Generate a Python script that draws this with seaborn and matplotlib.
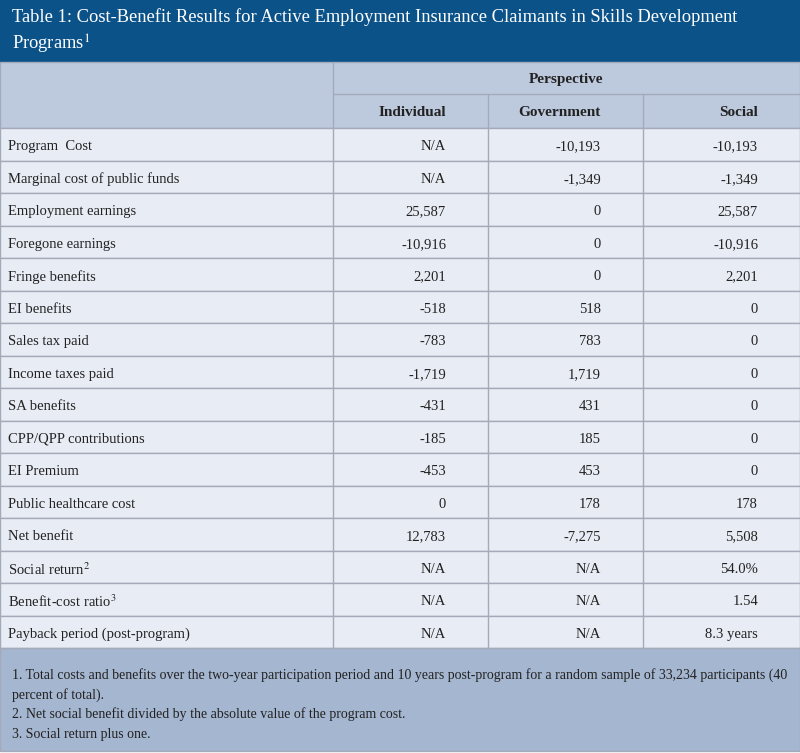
import matplotlib
matplotlib.use('Agg')
import matplotlib.pyplot as plt
from matplotlib.patches import Rectangle
import seaborn as sns

title = 'Table 1: Cost-Benefit Results for Active Employment Insurance Claimants in Skills Development\nPrograms$^{1}$'
columns = ['Individual', 'Government', 'Social']
rows = ['Program  Cost', 'Marginal cost of public funds', 'Employment earnings', 'Foregone earnings',
        'Fringe benefits', 'EI benefits', 'Sales tax paid', 'Income taxes paid', 'SA benefits',
        'CPP/QPP contributions', 'EI Premium', 'Public healthcare cost', 'Net benefit',
        'Social return$^{2}$', 'Benefit-cost ratio$^{3}$', 'Payback period (post-program)']
individual = ['N/A', 'N/A', '25,587', '-10,916', '2,201', '-518', '-783', '-1,719', '-431', '-185',
              '-453', '0', '12,783', 'N/A', 'N/A', 'N/A']
government = ['-10,193', '-1,349', '0', '0', '0', '518', '783', '1,719', '431', '185',
              '453', '178', '-7,275', 'N/A', 'N/A', 'N/A']
social = ['-10,193', '-1,349', '25,587', '-10,916', '2,201', '0', '0', '0', '0', '0',
          '0', '178', '5,508', '54.0%', '1.54', '8.3 years']
notes = ['1. Total costs and benefits over the two-year participation period and 10 years post-program for a random sample of 33,234 participants (40',
         'percent of total).',
         '2. Net social benefit divided by the absolute value of the program cost.',
         '3. Social return plus one.']

sns.set_theme(style='white')
plt.rcParams['font.family'] = ['Liberation Serif', 'DejaVu Serif']
plt.rcParams['mathtext.fontset'] = 'stix'

fig = plt.figure(figsize=(8, 7.53), dpi=100)
ax = fig.add_axes([0, 0, 1, 1])
ax.set_xlim(0, 800)
ax.set_ylim(753, 0)
ax.axis('off')

line = '#a3abba'
xs = [0, 333, 488, 643, 800]
# title band
ax.add_patch(Rectangle((0, 0), 800, 62, color='#0b5289'))
ax.text(12, 32, title, color='white', fontsize=13.3, va='center', ha='left', linespacing=1.45)
# header
ax.add_patch(Rectangle((0, 62), 800, 66, facecolor='#bdc9dd', edgecolor=line, lw=1))
ax.plot([333, 333], [62, 128], color=line, lw=1)
ax.plot([333, 800], [94, 94], color=line, lw=1)
for x in xs[2:4]:
    ax.plot([x, x], [94, 128], color=line, lw=1)
ax.text(566, 78, 'Perspective', fontsize=11, fontweight='bold', ha='center', va='center_baseline', color='#222')
for i, c in enumerate(columns):
    ax.text(xs[i + 2] - 42, 111, c, fontsize=11, fontweight='bold', ha='right', va='center_baseline', color='#222')

# body
top, h = 128, 32.5
for r, name in enumerate(rows):
    y = top + r * h
    ax.add_patch(Rectangle((0, y), 800, h, facecolor='#e8ecf4', edgecolor=line, lw=1))
    for x in xs[1:4]:
        ax.plot([x, x], [y, y + h], color=line, lw=1)
    yc = y + h / 2 + 1
    ax.text(8, yc, name, fontsize=10.5, ha='left', va='center_baseline', color='#222')
    for i, vals in enumerate([individual, government, social]):
        ax.text(xs[i + 2] - 42, yc, vals[r], fontsize=10.5, ha='right', va='center_baseline', color='#222')

# footer
fy = top + len(rows) * h
ax.add_patch(Rectangle((0, fy), 800, 753 - fy - 2, facecolor='#a5b6d0', edgecolor=line, lw=1))
for k, n in enumerate(notes):
    ax.text(12, fy + 25 + k * 20, n, fontsize=10, ha='left', va='center_baseline', color='#222')

fig.savefig('out.png', dpi=100)
